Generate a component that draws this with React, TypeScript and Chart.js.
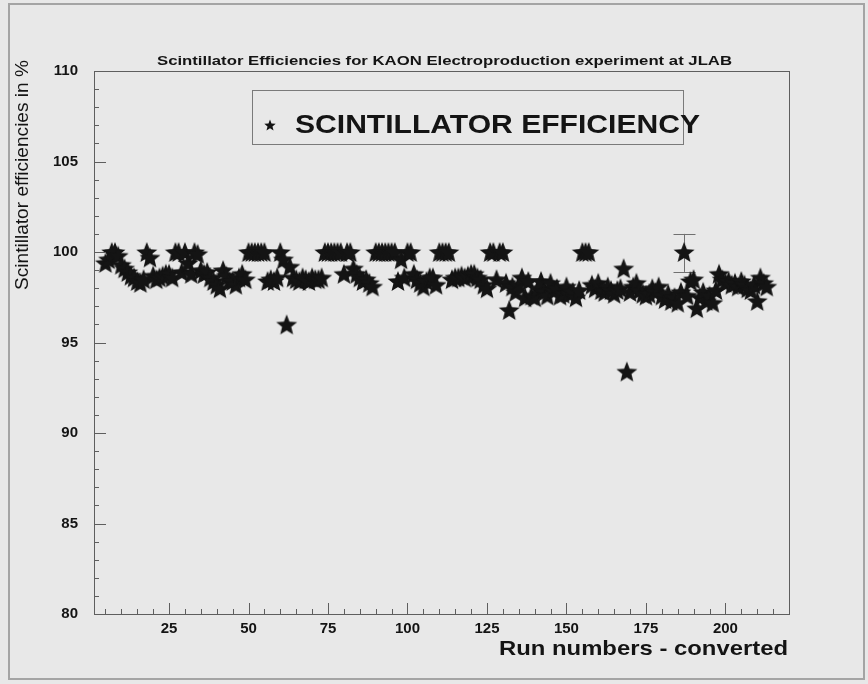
import React, { useEffect, useRef } from 'react';
import { Chart, registerables } from 'chart.js';

Chart.register(...registerables);

// ---------------- data ----------------
const runNumbers = [
  5, 6, 7, 8, 9, 10, 11, 12, 13, 14,
  15, 16, 17, 18, 19, 20, 21, 22, 23, 24,
  25, 26, 27, 28, 29, 30, 31, 32, 33, 34,
  35, 36, 37, 38, 39, 40, 41, 42, 43, 44,
  45, 46, 47, 48, 49, 50, 51, 52, 53, 54,
  55, 56, 57, 58, 59, 60, 61, 62, 63, 64,
  65, 66, 67, 68, 69, 70, 71, 72, 73, 74,
  75, 76, 77, 78, 79, 80, 81, 82, 83, 84,
  85, 86, 87, 88, 89, 90, 91, 92, 93, 94,
  95, 96, 97, 98, 99, 100, 101, 102, 103, 104,
  105, 106, 107, 108, 109, 110, 111, 112, 113, 114,
  115, 116, 117, 118, 119, 120, 121, 122, 123, 124,
  125, 126, 127, 128, 129, 130, 131, 132, 133, 134,
  135, 136, 137, 138, 139, 140, 141, 142, 143, 144,
  145, 146, 147, 148, 149, 150, 151, 152, 153, 154,
  155, 156, 157, 158, 159, 160, 161, 162, 163, 164,
  165, 166, 167, 168, 169, 170, 171, 172, 173, 174,
  175, 176, 177, 178, 179, 180, 181, 182, 183, 184,
  185, 186, 187, 188, 189, 190, 191, 192, 193, 194,
  195, 196, 197, 198, 199, 200, 201, 202, 203, 204,
  205, 206, 207, 208, 209, 210, 211, 212, 213,
];

const efficiencies = [
  99.4, 99.6, 100, 100, 99.8, 99.3, 99.1, 98.9, 98.7, 98.6,
  98.4, 98.3, 98.5, 100, 99.7, 98.7, 98.5, 98.6, 98.7, 98.8,
  98.8, 98.6, 100, 100, 98.9, 100, 99.4, 98.8, 100, 99.9,
  99.0, 98.8, 98.9, 98.6, 98.4, 98.2, 98.0, 99.0, 98.7, 98.4,
  98.4, 98.2, 98.6, 98.8, 98.5, 100, 100, 100, 100, 100,
  100, 98.4, 98.5, 98.4, 98.6, 100, 99.6, 96.0, 99.2, 98.6,
  98.5, 98.4, 98.6, 98.5, 98.4, 98.6, 98.5, 98.5, 98.6, 100,
  100, 100, 100, 100, 100, 98.8, 100, 100, 99.1, 98.8,
  98.6, 98.4, 98.5, 98.3, 98.1, 100, 100, 100, 100, 100,
  100, 100, 98.4, 99.6, 98.6, 100, 100, 98.8, 98.5, 98.3,
  98.1, 98.4, 98.6, 98.6, 98.2, 100, 100, 100, 100, 98.5,
  98.6, 98.6, 98.7, 98.6, 98.7, 98.8, 98.8, 98.6, 98.5, 98.2,
  98.0, 100, 100, 98.5, 100, 100, 98.3, 96.8, 98.1, 97.8,
  98.2, 98.6, 97.5, 98.4, 97.6, 97.5, 98.0, 98.4, 97.8, 97.6,
  98.3, 97.9, 98.0, 97.6, 97.7, 98.1, 97.7, 97.8, 97.5, 97.9,
  100, 100, 100, 98.2, 98.0, 98.3, 97.9, 97.8, 98.1, 97.9,
  97.7, 97.9, 98.0, 99.1, 93.4, 97.8, 98.1, 98.3, 97.9, 97.7,
  97.6, 97.7, 98.0, 97.8, 98.1, 97.6, 97.4, 97.7, 97.3, 97.5,
  97.2, 97.8, 100, 97.6, 98.4, 98.5, 96.9, 97.5, 97.8, 97.3,
  97.6, 97.2, 97.9, 98.8, 98.5, 98.3, 98.4, 98.2, 98.3, 98.1,
  98.4, 98.2, 98.0, 97.9, 98.2, 97.3, 98.6, 98.3, 98.1,
];

// error bar (only one visible in the picture)
const errorRuns = [187];
const errorLow = [98.9];
const errorHigh = [101.0];

const xTickValues = [25, 50, 75, 100, 125, 150, 175, 200];
const yTickValues = [80, 85, 90, 95, 100, 105, 110];

const titleText = 'Scintillator Efficiencies for KAON Electroproduction experiment at JLAB';
const legendLabel = 'SCINTILLATOR EFFICIENCY';
const xAxisTitle = 'Run numbers - converted';
const yAxisTitle = 'Scintillator efficiencies in %';

// ---------------- styles ----------------
const FONT = "'Liberation Sans', Arial, Helvetica, sans-serif";
const BG = '#e8e8e8';
const INK = '#141414';
const AXIS = '#5e5e5e';

function makeStar(size: number, outer: number, inner: number): HTMLCanvasElement {
  const c = document.createElement('canvas');
  c.width = size;
  c.height = size;
  const ctx = c.getContext('2d')!;
  ctx.fillStyle = INK;
  ctx.beginPath();
  const cx = size / 2;
  const cy = size / 2 + outer * 0.1;
  for (let i = 0; i < 10; i++) {
    const r = i % 2 ? inner : outer;
    const a = -Math.PI / 2 + (i * Math.PI) / 5;
    ctx.lineTo(cx + r * Math.cos(a), cy + r * Math.sin(a));
  }
  ctx.closePath();
  ctx.fill();
  return c;
}

function drawFitted(
  ctx: CanvasRenderingContext2D,
  text: string,
  x: number,
  y: number,
  font: string,
  width: number,
  align: 'left' | 'center' | 'right'
) {
  ctx.save();
  ctx.font = font;
  ctx.fillStyle = INK;
  ctx.textBaseline = 'middle';
  ctx.textAlign = 'left';
  const w = ctx.measureText(text).width;
  const sx = width / w;
  let left = x;
  if (align === 'center') left = x - width / 2;
  if (align === 'right') left = x - width;
  ctx.translate(left, y);
  ctx.scale(sx, 1);
  ctx.fillText(text, 0, 0);
  ctx.restore();
}

export default function App() {
  const ref = useRef<HTMLCanvasElement | null>(null);

  useEffect(() => {
    document.body.style.margin = '0';
    document.body.style.background = BG;
    const canvas = ref.current;
    if (!canvas) return;

    const star = makeStar(24, 11, 4.8);
    const legendStar = makeStar(14, 6, 2.6);

    const decor = {
      id: 'decor',
      beforeDraw(chart: any) {
        const ctx = chart.ctx as CanvasRenderingContext2D;
        ctx.save();
        ctx.fillStyle = BG;
        ctx.fillRect(0, 0, chart.width, chart.height);
        ctx.strokeStyle = '#a4a4a4';
        ctx.lineWidth = 2;
        ctx.strokeRect(9, 4, 855, 675);
        ctx.restore();
      },
      beforeDatasetsDraw(chart: any) {
        const ctx = chart.ctx as CanvasRenderingContext2D;
        const xs = chart.scales.x;
        const ys = chart.scales.y;
        ctx.save();
        ctx.strokeStyle = '#707070';
        ctx.lineWidth = 1;
        errorRuns.forEach((r, i) => {
          const px = Math.round(xs.getPixelForValue(r)) + 0.5;
          const lo = ys.getPixelForValue(errorLow[i]);
          const hi = ys.getPixelForValue(errorHigh[i]);
          ctx.beginPath();
          ctx.moveTo(px, lo);
          ctx.lineTo(px, hi);
          ctx.moveTo(px - 11, Math.round(lo) + 0.5);
          ctx.lineTo(px + 11, Math.round(lo) + 0.5);
          ctx.moveTo(px - 11, Math.round(hi) + 0.5);
          ctx.lineTo(px + 11, Math.round(hi) + 0.5);
          ctx.stroke();
        });
        ctx.restore();
      },
      afterDraw(chart: any) {
        const ctx = chart.ctx as CanvasRenderingContext2D;
        const a = chart.chartArea;
        const xs = chart.scales.x;
        const ys = chart.scales.y;
        ctx.save();
        // plot frame
        ctx.strokeStyle = AXIS;
        ctx.lineWidth = 1;
        ctx.strokeRect(Math.round(a.left) + 0.5, Math.round(a.top) + 0.5, Math.round(a.right - a.left), Math.round(a.bottom - a.top));
        // ticks (inward)
        ctx.beginPath();
        for (let v = 5; v <= 215; v += 5) {
          const px = Math.round(xs.getPixelForValue(v)) + 0.5;
          const len = v % 25 === 0 ? 11 : 5;
          ctx.moveTo(px, a.bottom);
          ctx.lineTo(px, a.bottom - len);
        }
        for (let v = 81; v <= 109; v += 1) {
          const py = Math.round(ys.getPixelForValue(v)) + 0.5;
          const len = v % 5 === 0 ? 12 : 5;
          ctx.moveTo(a.left, py);
          ctx.lineTo(a.left + len, py);
        }
        ctx.stroke();
        // legend box
        ctx.strokeStyle = '#7a7a7a';
        ctx.strokeRect(252.5, 90.5, 431, 54);
        ctx.drawImage(legendStar, 263, 118);
        ctx.restore();

        drawFitted(ctx, legendLabel, 295, 126, `bold 26px ${FONT}`, 405, 'left');
        drawFitted(ctx, titleText, (a.left + a.right) / 2 + 3, 62, `bold 12px ${FONT}`, 575, 'center');
        drawFitted(ctx, xAxisTitle, 788, 649, `bold 21px ${FONT}`, 289, 'right');

        ctx.save();
        ctx.translate(23, 175);
        ctx.rotate(-Math.PI / 2);
        drawFitted(ctx, yAxisTitle, 0, 0, `19px ${FONT}`, 230, 'center');
        ctx.restore();
      },
    };

    const tickFont = { family: FONT, size: 15, weight: 'bold' as const };

    const chart = new Chart(canvas, {
      type: 'scatter',
      data: {
        datasets: [
          {
            label: legendLabel,
            data: runNumbers.map((r, i) => ({ x: r, y: efficiencies[i] })),
            pointStyle: star as any,
            pointRadius: 10,
            backgroundColor: INK,
            borderColor: INK,
          },
        ],
      },
      options: {
        responsive: false,
        animation: false,
        events: [],
        layout: { padding: { left: 0, right: 79, top: 71, bottom: 0 } },
        plugins: {
          legend: { display: false },
          tooltip: { enabled: false },
          title: { display: false },
        },
        scales: {
          x: {
            type: 'linear',
            min: 1.4,
            max: 220,
            afterBuildTicks: (s: any) => {
              s.ticks = xTickValues.map((v) => ({ value: v }));
            },
            afterFit: (s: any) => {
              s.height = 70;
            },
            grid: { display: false, drawTicks: false },
            border: { display: false },
            ticks: {
              padding: 6,
              font: tickFont,
              color: INK,
              maxRotation: 0,
              autoSkip: false,
              callback: (v: any) => String(v),
            },
          },
          y: {
            type: 'linear',
            min: 80,
            max: 110,
            afterBuildTicks: (s: any) => {
              s.ticks = yTickValues.map((v) => ({ value: v }));
            },
            afterFit: (s: any) => {
              s.width = 94;
            },
            grid: { display: false, drawTicks: false },
            border: { display: false },
            ticks: {
              padding: 16,
              font: tickFont,
              color: INK,
              autoSkip: false,
              callback: (v: any) => String(v),
            },
          },
        },
      },
      plugins: [decor],
    });

    return () => chart.destroy();
  }, []);

  return (
    <div style={{ width: 868, height: 684 }}>
      <canvas ref={ref} width={868} height={684} style={{ display: 'block', width: 868, height: 684 }} />
    </div>
  );
}
